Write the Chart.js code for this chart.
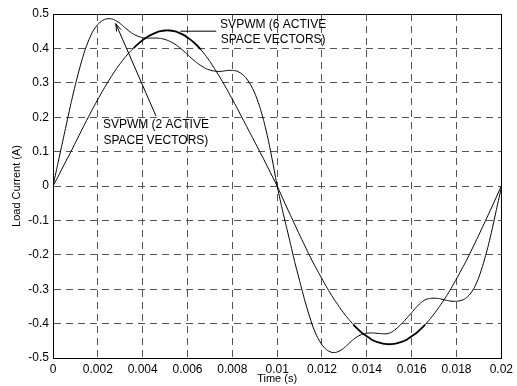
<!DOCTYPE html>
<html>
<head>
<meta charset="utf-8">
<script src="https://cdn.jsdelivr.net/npm/chart.js@4"></script>
<style>
  html, body { margin: 0; padding: 0; background: #fff; }
  #wrap { width: 517px; height: 386px; position: relative; }
</style>
</head>
<body>
<div id="wrap"><canvas id="plot"></canvas></div>
<script>
// --- Sample times (s), one period at 50 Hz ---
const timeS = [
  0.0000, 0.0002, 0.0004, 0.0006, 0.0008, 0.0010, 0.0012, 0.0014, 0.0016, 0.0018,
  0.0020, 0.0022, 0.0024, 0.0026, 0.0028, 0.0030, 0.0032, 0.0034, 0.0036, 0.0038,
  0.0040, 0.0042, 0.0044, 0.0046, 0.0048, 0.0050, 0.0052, 0.0054, 0.0056, 0.0058,
  0.0060, 0.0062, 0.0064, 0.0066, 0.0068, 0.0070, 0.0072, 0.0074, 0.0076, 0.0078,
  0.0080, 0.0082, 0.0084, 0.0086, 0.0088, 0.0090, 0.0092, 0.0094, 0.0096, 0.0098,
  0.0100, 0.0102, 0.0104, 0.0106, 0.0108, 0.0110, 0.0112, 0.0114, 0.0116, 0.0118,
  0.0120, 0.0122, 0.0124, 0.0126, 0.0128, 0.0130, 0.0132, 0.0134, 0.0136, 0.0138,
  0.0140, 0.0142, 0.0144, 0.0146, 0.0148, 0.0150, 0.0152, 0.0154, 0.0156, 0.0158,
  0.0160, 0.0162, 0.0164, 0.0166, 0.0168, 0.0170, 0.0172, 0.0174, 0.0176, 0.0178,
  0.0180, 0.0182, 0.0184, 0.0186, 0.0188, 0.0190, 0.0192, 0.0194, 0.0196, 0.0198,
  0.0200
];

// --- Load current, SVPWM with 6 active space vectors (A) ---
const current6 = [
  0, 0.024, 0.05, 0.075, 0.1, 0.126, 0.152, 0.178, 0.203, 0.228,
  0.252, 0.275, 0.297, 0.318, 0.338, 0.356, 0.373, 0.388, 0.401, 0.413,
  0.424, 0.433, 0.44, 0.446, 0.45, 0.452, 0.452, 0.45, 0.446, 0.44,
  0.432, 0.422, 0.41, 0.396, 0.38, 0.362, 0.342, 0.321, 0.299, 0.276,
  0.252, 0.228, 0.203, 0.178, 0.153, 0.128, 0.103, 0.078, 0.052, 0.026,
  0, -0.029, -0.058, -0.086, -0.114, -0.142, -0.169, -0.196, -0.222, -0.246,
  -0.27, -0.293, -0.315, -0.335, -0.354, -0.372, -0.388, -0.403, -0.416, -0.428,
  -0.437, -0.446, -0.452, -0.456, -0.459, -0.46, -0.459, -0.456, -0.452, -0.446,
  -0.437, -0.428, -0.416, -0.403, -0.388, -0.372, -0.354, -0.335, -0.315, -0.293,
  -0.27, -0.246, -0.222, -0.196, -0.169, -0.142, -0.114, -0.086, -0.058, -0.029,
  0
];

// --- Load current, SVPWM with 2 active space vectors (A) ---
const current2 = [
  0, 0.06, 0.12, 0.18, 0.24, 0.295, 0.345, 0.39, 0.425, 0.452,
  0.47, 0.481, 0.486, 0.486, 0.481, 0.472, 0.461, 0.45, 0.441, 0.435,
  0.431, 0.43, 0.43, 0.43, 0.429, 0.426, 0.421, 0.414, 0.405, 0.394,
  0.382, 0.37, 0.359, 0.35, 0.342, 0.337, 0.334, 0.333, 0.334, 0.336,
  0.336, 0.334, 0.327, 0.315, 0.296, 0.27, 0.235, 0.19, 0.135, 0.07,
  0, -0.06, -0.115, -0.17, -0.225, -0.275, -0.325, -0.37, -0.41, -0.44,
  -0.462, -0.476, -0.483, -0.484, -0.479, -0.47, -0.458, -0.446, -0.437, -0.431,
  -0.428, -0.427, -0.428, -0.429, -0.43, -0.428, -0.421, -0.41, -0.397, -0.383,
  -0.368, -0.353, -0.34, -0.331, -0.327, -0.326, -0.327, -0.33, -0.333, -0.335,
  -0.335, -0.333, -0.327, -0.315, -0.295, -0.265, -0.225, -0.178, -0.123, -0.063,
  -0.005
];

const noteSix = ["SVPWM (6 ACTIVE", "SPACE VECTORS)"];
const noteTwo = ["SVPWM (2 ACTIVE", "SPACE VECTORS)"];
const xTitle = "Time (s)";
const yTitle = "Load Current (A)";

const FONT = "'Liberation Sans', Arial, sans-serif";

function toPoints(values) {
  return values.map((v, i) => ({ x: timeS[i], y: v }));
}

// --- Frame + text notes with leader lines ---
const notes = {
  id: "notes",
  afterDatasetsDraw(chart) {
    const { ctx, chartArea: a, scales: { x, y } } = chart;
    ctx.save();

    // full box round the axes
    ctx.strokeStyle = "#000";
    ctx.lineWidth = 1;
    ctx.setLineDash([]);
    const l = Math.round(a.left) + 0.5, t = Math.round(a.top) + 0.5;
    ctx.strokeRect(l, t, Math.round(a.right) - Math.round(a.left), Math.round(a.bottom) - Math.round(a.top));

    ctx.fillStyle = "#000";
    ctx.font = "12px " + FONT;
    ctx.textAlign = "center";
    ctx.textBaseline = "middle";

    // 6 active vectors note
    ctx.fillText(noteSix[0], x.getPixelForValue(0.00982), y.getPixelForValue(0.47));
    ctx.fillText(noteSix[1], x.getPixelForValue(0.00982), y.getPixelForValue(0.426));
    ctx.beginPath();
    ctx.moveTo(x.getPixelForValue(0.00568), y.getPixelForValue(0.45));
    ctx.lineTo(x.getPixelForValue(0.00728), y.getPixelForValue(0.45));
    ctx.stroke();

    // 2 active vectors note
    ctx.fillText(noteTwo[0], x.getPixelForValue(0.00459), y.getPixelForValue(0.179));
    ctx.fillText(noteTwo[1], x.getPixelForValue(0.00459), y.getPixelForValue(0.133));
    const x0 = x.getPixelForValue(0.00459), y0 = y.getPixelForValue(0.204);
    const x1 = x.getPixelForValue(0.0028), y1 = y.getPixelForValue(0.472);
    ctx.beginPath();
    ctx.moveTo(x0, y0);
    ctx.lineTo(x1, y1);
    const ang = Math.atan2(y1 - y0, x1 - x0);
    ctx.moveTo(x1 - 8 * Math.cos(ang - 0.3), y1 - 8 * Math.sin(ang - 0.3));
    ctx.lineTo(x1, y1);
    ctx.lineTo(x1 - 8 * Math.cos(ang + 0.3), y1 - 8 * Math.sin(ang + 0.3));
    ctx.stroke();

    ctx.restore();
  }
};

const gridStyle = {
  color: "#555",
  lineWidth: 1,
  drawTicks: false
};

new Chart(document.getElementById("plot"), {
  type: "line",
  data: {
    datasets: [
      {
        label: noteSix.join(" "),
        data: toPoints(current6),
        borderColor: "#000",
        borderWidth: 1,
        pointRadius: 0,
        tension: 0.2,
        fill: false,
        // switching ripple shows up as a thicker trace round the peaks
        segment: {
          borderWidth: c => (Math.abs(c.p0.parsed.y) >= 0.39 && Math.abs(c.p1.parsed.y) >= 0.39) ? 1.8 : 1
        }
      },
      {
        label: noteTwo.join(" "),
        data: toPoints(current2),
        borderColor: "#000",
        borderWidth: 1,
        pointRadius: 0,
        tension: 0.2,
        fill: false
      }
    ]
  },
  options: {
    responsive: true,
    maintainAspectRatio: false,
    animation: false,
    layout: { padding: { left: 0, right: 11, top: 14, bottom: 0 } },
    plugins: {
      legend: { display: false },
      tooltip: { enabled: false }
    },
    scales: {
      x: {
        type: "linear",
        min: 0,
        max: 0.02,
        afterFit: s => { s.height = 28; },
        ticks: {
          stepSize: 0.002,
          padding: 4,
          color: "#000",
          font: { size: 12, family: FONT },
          maxRotation: 0,
          callback: v => String(Number(v.toFixed(3)))
        },
        grid: { ...gridStyle },
        border: { display: true, color: "#000", width: 1, dash: [7, 5] },
        title: {
          display: true,
          text: xTitle,
          color: "#000",
          font: { size: 11, family: FONT },
          padding: { top: 0, bottom: 0 }
        }
      },
      y: {
        min: -0.5,
        max: 0.5,
        afterFit: s => { s.width = 53; },
        ticks: {
          stepSize: 0.1,
          padding: 4,
          color: "#000",
          font: { size: 12, family: FONT },
          callback: v => String(Number(v.toFixed(1)))
        },
        grid: { ...gridStyle },
        border: { display: true, color: "#000", width: 1, dash: [7, 5] },
        title: {
          display: true,
          text: yTitle,
          color: "#000",
          font: { size: 11, family: FONT },
          padding: { top: 10, bottom: 0 }
        }
      }
    }
  },
  plugins: [notes]
});
</script>
</body>
</html>
